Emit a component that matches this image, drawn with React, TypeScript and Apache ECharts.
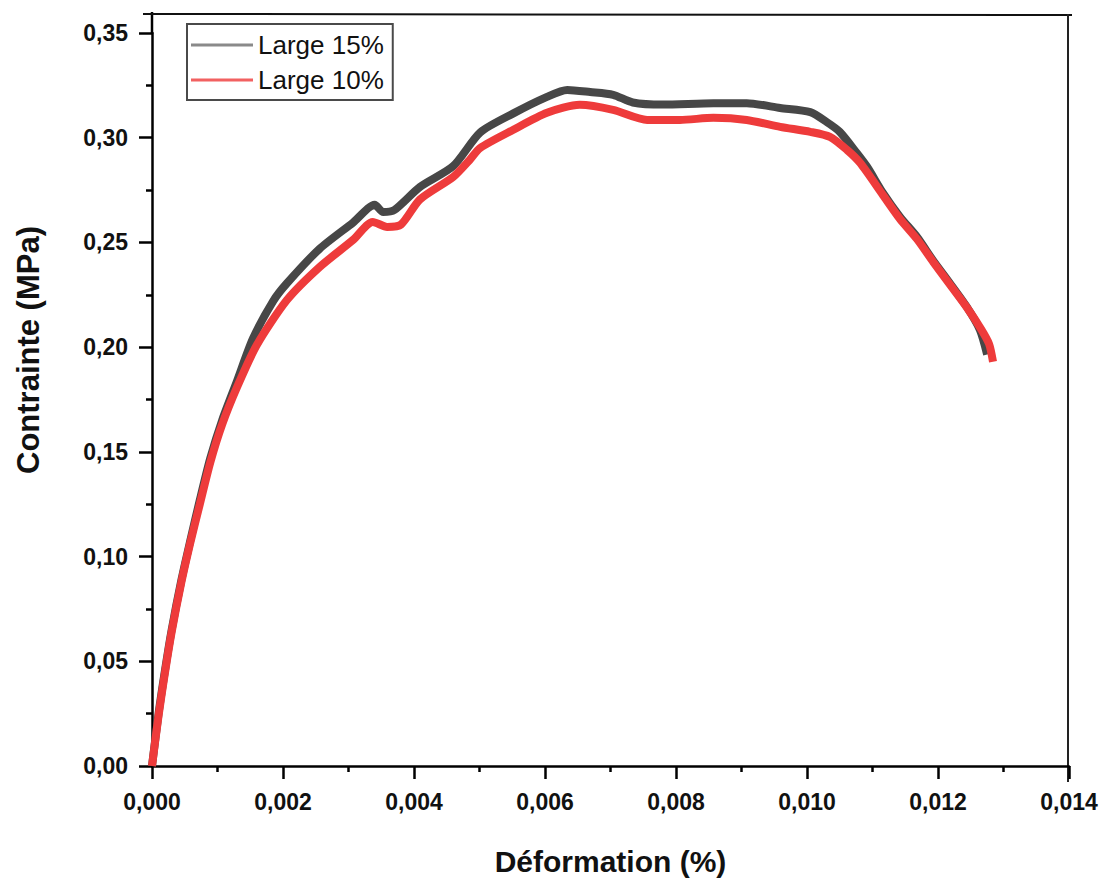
import React, { useEffect, useRef } from "react";
import * as echarts from "echarts";

const seriesNames = ["Large 15%", "Large 10%"];

const large15X = [0, 0.0001, 0.0002, 0.0003, 0.00045, 0.00058, 0.00073, 0.00089, 0.00107, 0.0013, 0.00154, 0.00185, 0.00206, 0.00256, 0.00307, 0.0034, 0.00353, 0.0037, 0.00409, 0.0046, 0.00501, 0.00551, 0.00603, 0.00634, 0.00669, 0.00704, 0.00734, 0.0078, 0.00857, 0.00908, 0.00959, 0.01005, 0.0103, 0.0105, 0.01076, 0.01092, 0.01116, 0.01142, 0.01168, 0.01192, 0.01218, 0.01244, 0.01264, 0.01275];
const large15Y = [0, 0.025, 0.046, 0.065, 0.089, 0.107, 0.127, 0.147, 0.165, 0.184, 0.204, 0.222, 0.2305, 0.247, 0.2595, 0.268, 0.2645, 0.2655, 0.2765, 0.2865, 0.3025, 0.3115, 0.3195, 0.3228, 0.3218, 0.3205, 0.3168, 0.3158, 0.3165, 0.3165, 0.3142, 0.3122, 0.3075, 0.3028, 0.2927, 0.286, 0.2736, 0.2622, 0.2526, 0.2416, 0.2306, 0.2192, 0.2082, 0.1965];

const large10X = [0, 0.0001, 0.0002, 0.0003, 0.00045, 0.00058, 0.00073, 0.00089, 0.00107, 0.0013, 0.0016, 0.00206, 0.00256, 0.00307, 0.00337, 0.00359, 0.0038, 0.00409, 0.0046, 0.00485, 0.00501, 0.00551, 0.00603, 0.00653, 0.00704, 0.00756, 0.00806, 0.00857, 0.00908, 0.00959, 0.01005, 0.01035, 0.01061, 0.01081, 0.01116, 0.01142, 0.01168, 0.01192, 0.01218, 0.01244, 0.01266, 0.01278, 0.01284];
const large10Y = [0, 0.024, 0.045, 0.064, 0.088, 0.106, 0.125, 0.145, 0.163, 0.181, 0.201, 0.2225, 0.2383, 0.2512, 0.2598, 0.2574, 0.2585, 0.2705, 0.2813, 0.2894, 0.2951, 0.3037, 0.3119, 0.3157, 0.3133, 0.3085, 0.3085, 0.3095, 0.3085, 0.3052, 0.3028, 0.3004, 0.2942, 0.288, 0.2726, 0.2612, 0.2516, 0.241, 0.23, 0.219, 0.2085, 0.2015, 0.193];

const xTitle = "Déformation (%)";
const yTitle = "Contrainte (MPa)";

const FONT = "'Liberation Sans', Arial, sans-serif";

function pairs(xs: number[], ys: number[]) {
  return xs.map((x, i) => [x, ys[i]]);
}

export default function App() {
  const ref = useRef<HTMLDivElement>(null);
  useEffect(() => {
    if (!ref.current) return;
    const chart = echarts.init(ref.current, null, { renderer: "svg" });
    const axisLine = { show: true, lineStyle: { color: "#000", width: 2.5 } };
    chart.setOption({
      animation: false,
      backgroundColor: "#fff",
      grid: { left: 152, right: 42, top: 33, bottom: 114, containLabel: false, outerBoundsMode: "none" },
      legend: {
        left: 187,
        top: 24,
        orient: "vertical",
        icon: "rect",
        data: [
          { name: seriesNames[0], itemStyle: { color: "#8a8a8a" } },
          { name: seriesNames[1], itemStyle: { color: "#f26161" } },
        ],
        itemWidth: 62,
        itemHeight: 3,
        itemGap: 5,
        padding: [6, 9, 5, 4],
        borderColor: "#4a4a4a",
        borderWidth: 2,
        backgroundColor: "#fff",
        textStyle: { fontFamily: FONT, fontSize: 26, color: "#111", lineHeight: 30 },
      },
      xAxis: {
        type: "value",
        min: 0,
        max: 0.014,
        interval: 0.002,
        splitLine: { show: false },
        axisLine: { ...axisLine, onZero: false },
        axisTick: { show: true, inside: false, length: 13, lineStyle: { color: "#000", width: 2.5 } },
        minorTick: { show: true, splitNumber: 2, length: 6, lineStyle: { color: "#000", width: 2.5 } },
        axisLabel: {
          margin: 24,
          fontFamily: FONT,
          fontSize: 23,
          fontWeight: "bold",
          color: "#111",
          formatter: (v: number) => v.toFixed(3).replace(".", ","),
        },
        name: xTitle,
        nameLocation: "middle",
        nameGap: 80,
        nameTextStyle: { fontFamily: FONT, fontSize: 30, fontWeight: "bold", color: "#111" },
      },
      yAxis: {
        type: "value",
        min: 0,
        max: 0.35,
        interval: 0.05,
        splitLine: { show: false },
        axisLine: { ...axisLine, onZero: false },
        axisTick: { show: true, inside: false, length: 13, lineStyle: { color: "#000", width: 2.5 } },
        minorTick: { show: true, splitNumber: 2, length: 6, lineStyle: { color: "#000", width: 2.5 } },
        axisLabel: {
          margin: 24,
          fontFamily: FONT,
          fontSize: 23,
          fontWeight: "bold",
          color: "#111",
          formatter: (v: number) => v.toFixed(2).replace(".", ","),
        },
      },
      graphic: [
        { type: "line", shape: { x1: 152, y1: 12, x2: 152, y2: 34 }, style: { stroke: "#000", lineWidth: 2.5 } },
        { type: "line", shape: { x1: 143, y1: 14, x2: 1072, y2: 15 }, style: { stroke: "#111", lineWidth: 2 } },
        { type: "line", shape: { x1: 1068, y1: 14, x2: 1068, y2: 782 }, style: { stroke: "#222", lineWidth: 2 } },
        {
          type: "text",
          x: 28,
          y: 350,
          rotation: Math.PI / 2,
          style: {
            text: yTitle,
            fontFamily: FONT,
            fontSize: 31,
            fontWeight: "bold",
            fill: "#111",
            textAlign: "center",
            textVerticalAlign: "middle",
          },
        },
      ],
      series: [
        {
          name: seriesNames[0],
          type: "line",
          data: pairs(large15X, large15Y),
          showSymbol: false,
          symbol: "none",
          smooth: 0.25,
          lineStyle: { color: "#474747", width: 8 },
          itemStyle: { color: "#474747" },
          z: 2,
        },
        {
          name: seriesNames[1],
          type: "line",
          data: pairs(large10X, large10Y),
          showSymbol: false,
          symbol: "none",
          smooth: 0.25,
          lineStyle: { color: "#ee3b3b", width: 8 },
          itemStyle: { color: "#ee3b3b" },
          z: 3,
        },
      ],
    });
    return () => chart.dispose();
  }, []);
  return (
    <div
      ref={ref}
      style={{ position: "fixed", left: 0, top: 0, width: 1111, height: 880, background: "#fff" }}
    />
  );
}
